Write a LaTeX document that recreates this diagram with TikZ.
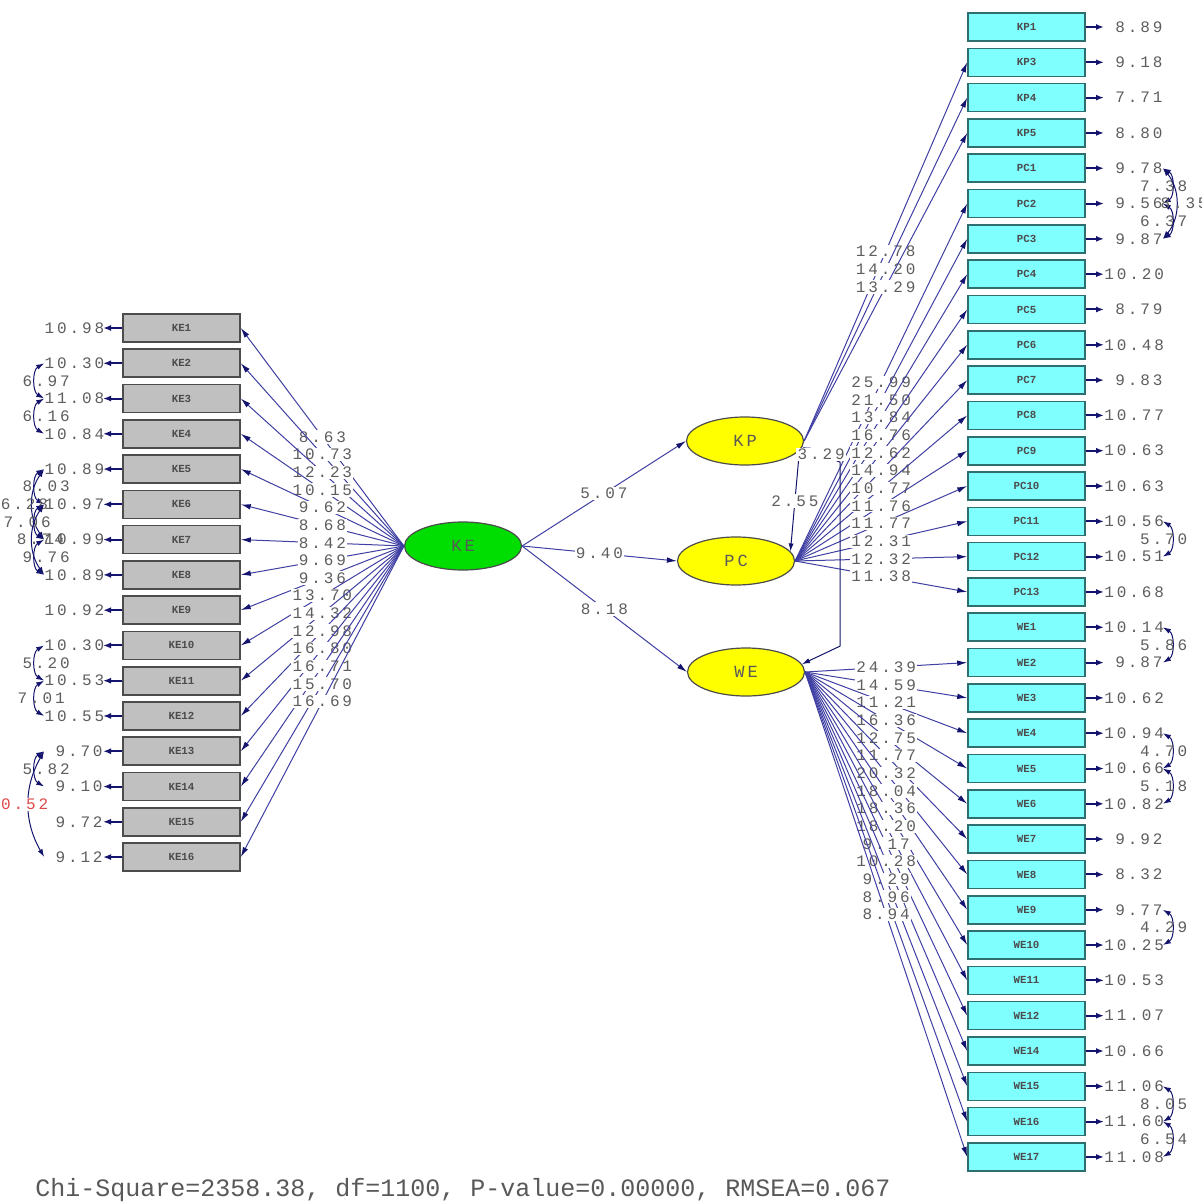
\documentclass[tikz,border=0pt]{standalone}
\usepackage{fontspec}
\setmonofont{Liberation Mono}
\newfontfamily\lisfont[LetterSpace=18.0]{Liberation Mono}
\usepackage{tikz}
\usetikzlibrary{arrows.meta,positioning,calc,shapes.geometric}
\definecolor{lisblue}{HTML}{4040A4}
\definecolor{lisnavy}{HTML}{14146E}
\definecolor{lisgray}{HTML}{C0C0C0}
\definecolor{liscyan}{HTML}{80FFFF}
\definecolor{listeal}{HTML}{2E6E6E}
\definecolor{lisgreen}{HTML}{00DD00}
\definecolor{lisyellow}{HTML}{FFFF00}
\definecolor{listext}{HTML}{5E5E5E}
\definecolor{lisred}{HTML}{E04848}
\tikzset{
  pathline/.style={-{Latex[length=5pt,width=2.8pt,color=lisnavy]}, line width=0.5pt, draw=lisblue},
  errarrow/.style={-{Latex[length=4pt,width=3pt]}, line width=1pt, draw=lisnavy},
  covarrow/.style={{Latex[length=4pt,width=2.6pt]}-{Latex[length=4pt,width=2.6pt]}, line width=0.5pt, draw=lisnavy},
  kebox/.style={draw=black!70, fill=lisgray, line width=0.8pt, minimum width=58.5pt,
    minimum height=14pt, inner sep=0pt, font=\ttfamily\bfseries\fontsize{5.4}{6}\selectfont, text=black!70},
  rbox/.style={kebox, draw=listeal, fill=liscyan},
  latent/.style={ellipse, draw=black!70, line width=0.6pt, minimum width=58.5pt,
    minimum height=24pt, inner sep=0pt, font=\lisfont\fontsize{8.5}{10}\selectfont, text=black!65},
  tval/.style={font=\lisfont\fontsize{8}{9}\selectfont, text=listext, fill=white, inner sep=0.6pt},
  errval/.style={font=\lisfont\fontsize{8}{9}\selectfont, text=listext, inner sep=0pt,
    text width=29pt, align=right},
  covval/.style={font=\lisfont\fontsize{8}{9}\selectfont, text=listext, inner sep=0.6pt}
}

\begin{document}
\begin{tikzpicture}[x=0.5pt,y=-0.5pt]
  \fill[white] (0,0) rectangle (1202,1204);
  \useasboundingbox (0,0) rectangle (1202,1204);

  % indicators of KE
  \foreach \i/\v in {1/10.98,2/10.30,3/11.08,4/10.84,5/10.89,6/10.97,7/10.99,8/10.89,
                     9/10.92,10/10.30,11/10.53,12/10.55,13/9.70,14/9.10,15/9.72,16/9.12}{
    \node[kebox] (KE\i) at (181.5,{328+(\i-1)*35.27}) {KE\i};
    \node[errval, anchor=east] (eKE\i) at (103,{328+(\i-1)*35.27}) {\v};
    \draw[errarrow] (KE\i.west) -- (eKE\i.east);
  }

  % indicators of KP, PC, WE
  \foreach \nm/\v [count=\k from 0] in {KP1/8.89,KP3/9.18,KP4/7.71,KP5/8.80,
      PC1/9.78,PC2/9.56,PC3/9.87,PC4/10.20,PC5/8.79,PC6/10.48,PC7/9.83,PC8/10.77,
      PC9/10.63,PC10/10.63,PC11/10.56,PC12/10.51,PC13/10.68,
      WE1/10.14,WE2/9.87,WE3/10.62,WE4/10.94,WE5/10.66,WE6/10.82,WE7/9.92,WE8/8.32,
      WE9/9.77,WE10/10.25,WE11/10.53,WE12/11.07,WE14/10.66,WE15/11.06,WE16/11.60,WE17/11.08}{
    \node[rbox] (\nm) at (1026.5,{27+\k*35.31}) {\nm};
    \node[errval, anchor=west] (e\nm) at (1104,{27+\k*35.31}) {\v};
    \draw[errarrow] (\nm.east) -- (e\nm.west);
  }

  % latent variables
  \node[latent, fill=lisgreen] (KE) at (463,546) {KE};
  \node[latent, fill=lisyellow] (KP) at (745,441) {KP};
  \node[latent, fill=lisyellow] (PC) at (736,561) {PC};
  \node[latent, fill=lisyellow] (WE) at (746,672) {WE};

  % loadings
  \foreach \i/\t in {1/8.63,2/10.73,3/12.23,4/10.15,5/9.62,6/8.68,7/8.42,8/9.69,
                     9/9.36,10/13.70,11/14.32,12/12.98,13/16.80,14/16.71,15/15.70,16/16.69}
    \draw[pathline] (KE.west) -- node[tval]{\t} (KE\i.east);
  \foreach \nm/\t in {KP3/12.78,KP4/14.20,KP5/13.29}
    \draw[pathline] (KP.east) -- node[tval]{\t} (\nm.west);
  \foreach \nm/\t in {PC2/25.99,PC3/21.50,PC4/13.84,PC5/16.76,PC6/12.62,PC7/14.94,
                      PC8/10.77,PC9/11.76,PC10/11.77,PC11/12.31,PC12/12.32,PC13/11.38}
    \draw[pathline] (PC.east) -- node[tval]{\t} (\nm.west);
  \foreach \nm/\t in {WE2/24.39,WE3/14.59,WE4/11.21,WE5/16.36,WE6/12.75,WE7/11.77,
                      WE8/20.32,WE9/18.04,WE10/18.36,WE11/18.20,WE12/9.17,WE14/10.28,
                      WE15/9.29,WE16/8.96,WE17/8.94}
    \draw[pathline] (WE.east) -- node[tval]{\t} (\nm.west);

  % structural paths
  \draw[pathline] (KE.east) -- node[tval]{5.07} (KP.west);
  \draw[pathline] (KE.east) -- node[tval]{9.40} (PC.west);
  \draw[pathline] (KE.east) -- node[tval]{8.18} (WE.west);

  % covariances of latent errors
  \draw[covarrow] (KP.-10) -- node[tval]{2.55} (PC.10);
  \draw[covarrow] (WE.8) -- ++(38,-18) -- ++(0,-184) -- node[tval]{3.29} (KP.-6);

  % error covariances, left
  \draw[covarrow] (eKE2.west) to[bend right=60] node[covval, xshift=5.5pt]{6.97} (eKE3.west);
  \draw[covarrow] (eKE3.west) to[bend right=60] node[covval, xshift=5.5pt]{6.16} (eKE4.west);
  \draw[covarrow] (eKE5.west) to[bend right=60] node[covval, xshift=5.5pt]{8.03} (eKE6.west);
  \draw[covarrow] (eKE5.west) to[bend right=35] node[covval, xshift=-4pt]{6.28} (eKE7.west);
  \draw[covarrow] (eKE6.west) to[bend right=60] node[covval, xshift=-4pt]{7.06} (eKE7.west);
  \draw[covarrow] (eKE6.west) to[bend right=35] node[covval, xshift=4pt]{8.74} (eKE8.west);
  \draw[covarrow] (eKE7.west) to[bend right=60] node[covval, xshift=5.5pt]{9.76} (eKE8.west);
  \draw[covarrow] (eKE10.west) to[bend right=60] node[covval, xshift=5.5pt]{5.20} (eKE11.west);
  \draw[covarrow] (eKE11.west) to[bend right=60] node[covval, xshift=3pt]{7.01} (eKE12.west);
  \draw[covarrow] (eKE13.west) to[bend right=60] node[covval, xshift=5.5pt]{5.82} (eKE14.west);
  \draw[covarrow] (eKE13.west) to[bend right=30] node[covval, fill=white, text=lisred, xshift=-2pt]{0.52} (eKE16.west);

  % error covariances, right
  \draw[covarrow] (ePC1.east) to[bend left=60] node[covval, xshift=-4pt]{7.38} (ePC2.east);
  \draw[covarrow] (ePC2.east) to[bend left=60] node[covval, xshift=-4pt]{6.37} (ePC3.east);
  \draw[covarrow] (ePC1.east) to[bend left=40] node[covval, xshift=4pt]{8.35} (ePC3.east);
  \draw[covarrow] (ePC11.east) to[bend left=60] node[covval, xshift=-4pt]{5.70} (ePC12.east);
  \draw[covarrow] (eWE1.east) to[bend left=60] node[covval, xshift=-4pt]{5.86} (eWE2.east);
  \draw[covarrow] (eWE4.east) to[bend left=60] node[covval, xshift=-4pt]{4.70} (eWE5.east);
  \draw[covarrow] (eWE5.east) to[bend left=60] node[covval, xshift=-4pt]{5.18} (eWE6.east);
  \draw[covarrow] (eWE9.east) to[bend left=60] node[covval, xshift=-4pt]{4.29} (eWE10.east);
  \draw[covarrow] (eWE15.east) to[bend left=60] node[covval, xshift=-4pt]{8.05} (eWE16.east);
  \draw[covarrow] (eWE16.east) to[bend left=60] node[covval, xshift=-4pt]{6.54} (eWE17.east);

  % fit statistics
  \node[anchor=west, inner sep=0pt, font=\ttfamily\fontsize{12.5}{14}\selectfont, text=black!65]
    (fitline) at (35,1190) {Chi-Square=2358.38, df=1100, P-value=0.00000, RMSEA=0.067};
\end{tikzpicture}
\end{document}
